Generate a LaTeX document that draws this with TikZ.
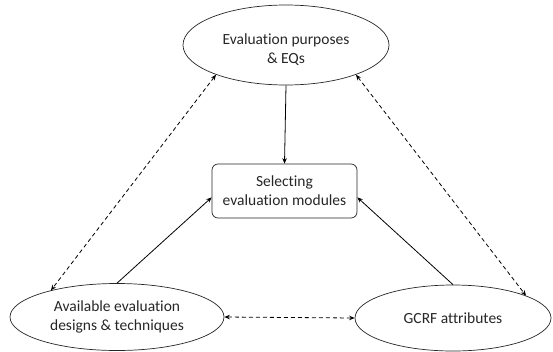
\documentclass[tikz,border=0pt]{standalone}
\usepackage{fontspec}
\setmainfont{Carlito}[Ligatures=NoCommon]
\usetikzlibrary{shapes.geometric,arrows.meta}
\begin{document}
\begin{tikzpicture}[x=1pt,y=-1pt,
  font=\fontsize{15.5}{19}\selectfont,
  every node/.style={text=black!85, align=center},
  oval/.style={ellipse, draw=black!85, line width=0.7pt, inner sep=0pt},
  modbox/.style={rectangle, rounded corners=6pt, draw=black!85, line width=0.7pt, minimum width=145pt, minimum height=54pt, inner sep=0pt},
  link/.style={line width=0.8pt, draw=black, -{Stealth[length=5.5pt,width=4.5pt]}},
  duallink/.style={line width=0.8pt, draw=black, dash pattern=on 4pt off 3pt, {Stealth[length=5.5pt,width=4.5pt]}-{Stealth[length=5.5pt,width=4.5pt]}}]
  \useasboundingbox (0,0) rectangle (553,351);

  % ellipses and the central box
  \node[oval, minimum width=206pt, minimum height=80pt] (purp) at (286,45) {};
  \node (purptext) at (286,50) {Evaluation purposes\\\& EQs};
  \node[modbox] (sel) at (284.5,191) {Selecting\\evaluation modules};
  \node[oval, minimum width=214pt, minimum height=67pt] (design) at (117,317) {Available evaluation\\designs \& techniques};
  \node[oval, minimum width=196pt, minimum height=66pt] (gcrf) at (453,318) {GCRF attributes};

  % inputs into module selection
  \draw[link] (purp.south) -- (sel.north);
  \draw[link] (design.north) -- (sel.185);
  \draw[link] (gcrf.north) -- (sel.355);

  % mutual influences
  \draw[duallink] (purp.203) -- (design.158);
  \draw[duallink] (purp.337) -- (gcrf.17);
  \draw[duallink] (design.east) -- (gcrf.west);
\end{tikzpicture}
\end{document}
